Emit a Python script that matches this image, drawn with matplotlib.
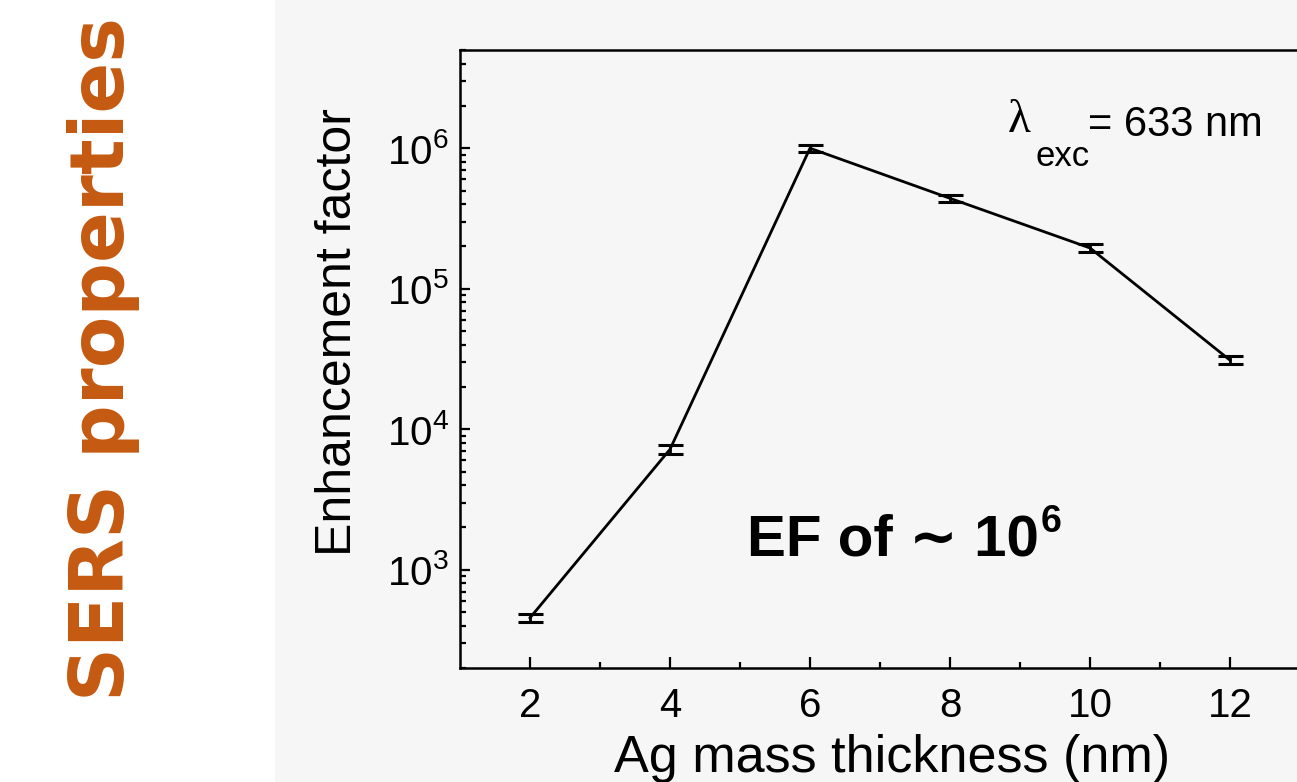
import matplotlib
matplotlib.use("Agg")
import matplotlib.pyplot as plt

# data
thickness = [2, 4, 6, 8, 10, 12]
ef = [455, 7200, 1.0e6, 4.4e5, 1.95e5, 3.1e4]
ef_err = [30, 500, 6e4, 2.5e4, 1.2e4, 2.0e3]

plt.rcParams['font.family'] = ['Liberation Sans', 'DejaVu Sans']
plt.rcParams['mathtext.fontset'] = 'custom'
plt.rcParams['mathtext.rm'] = 'Liberation Sans'
plt.rcParams['mathtext.bf'] = 'Liberation Sans:bold'

fig = plt.figure(figsize=(12.97, 7.82), dpi=100)
fig.patch.set_facecolor("white")

# light grey panel behind the chart
bg = fig.add_axes([275 / 1297, 0, 1 - 275 / 1297, 1], zorder=-5)
bg.set_axis_off()
bg.add_artist(plt.Rectangle((0, 0), 1, 1, transform=bg.transAxes,
                            facecolor="#f6f6f6", edgecolor="none"))

ax = fig.add_axes([460 / 1297, 1 - 668 / 782, 840 / 1297, 618 / 782])
ax.set_facecolor("#f6f6f6")

ax.errorbar(thickness, ef, yerr=ef_err, color="black", lw=2,
            capsize=9, capthick=2.2, elinewidth=2)

ax.set_yscale("log")
ax.set_xlim(1, 13)
ax.set_ylim(200, 5e6)
ax.set_xticks(thickness)
ax.set_xticks([3, 5, 7, 9, 11], minor=True)

for s in ax.spines.values():
    s.set_linewidth(1.8)

ax.tick_params(which="both", direction="in", top=False, right=False,
               labelsize=29, width=1.6)
ax.tick_params(axis="x", which="major", length=8, pad=14)
ax.tick_params(axis="x", which="minor", length=4.5)
ax.tick_params(axis="y", which="major", length=7, pad=8)
ax.tick_params(axis="y", which="minor", length=4.5)

ax.set_xlabel("Ag mass thickness (nm)", fontsize=37.5)
ax.xaxis.set_label_coords(0.514, -0.106)
ax.set_ylabel("Enhancement factor", fontsize=36)
ax.yaxis.set_label_coords(-0.118, 0.544)

ax.text(0.652, 0.885, "λ", transform=ax.transAxes, fontsize=34,
        family="Liberation Serif", va="center", ha="left")
ax.text(0.685, 0.827, "exc", transform=ax.transAxes, fontsize=25,
        va="center", ha="left")
ax.text(0.748, 0.879, "= 633 nm", transform=ax.transAxes, fontsize=30,
        va="center", ha="left")

ef_txt = ax.text(0.342, 0.207, "EF of ∼ 10", transform=ax.transAxes,
                 fontsize=42, fontweight="bold", va="center", ha="left")
ax.annotate("6", xy=(1, 0.5), xycoords=ef_txt, xytext=(1, 0),
            textcoords="offset points", fontsize=27, fontweight="bold",
            va="bottom", ha="left")

fig.text(104 / 1297, 1 - 359 / 782, "SERS properties", rotation=90,
         fontsize=54, fontweight="bold", color="#C55A11", family="DejaVu Sans",
         ha="center", va="center")

fig.savefig("out.png", dpi=100)
